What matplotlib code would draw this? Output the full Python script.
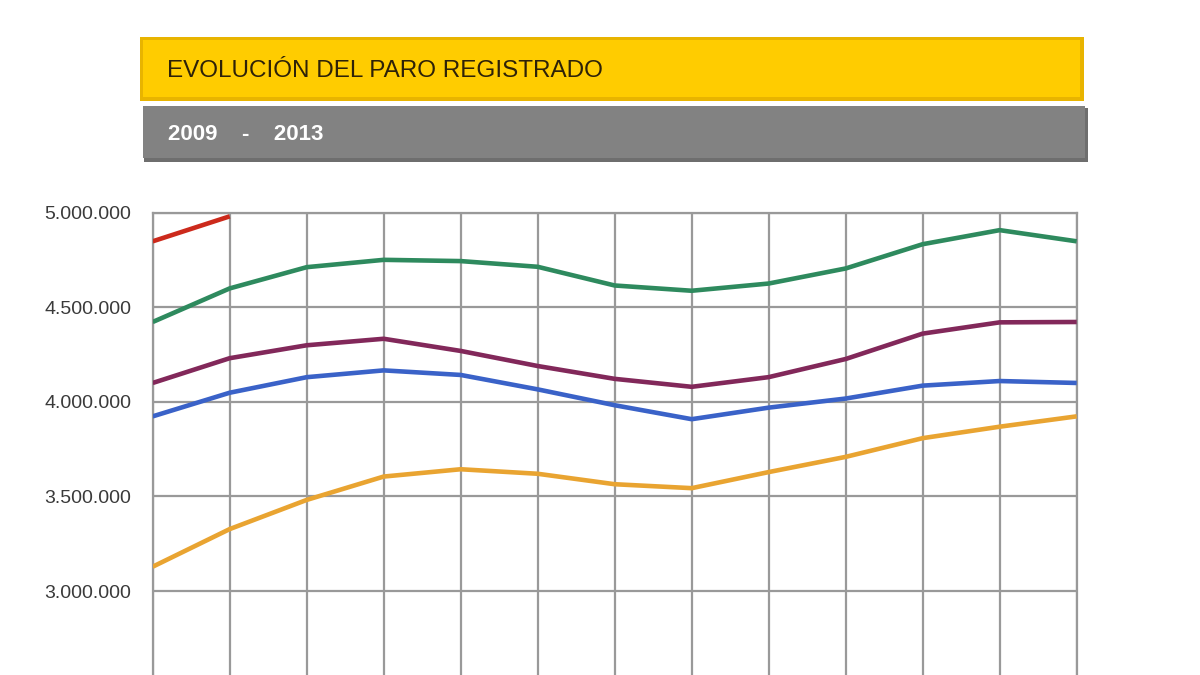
import matplotlib
matplotlib.use("Agg")
import matplotlib.pyplot as plt
from matplotlib.patches import Rectangle
from matplotlib.ticker import FuncFormatter

# months shown: December of the previous year, then January..December
meses = ["Dic", "Ene", "Feb", "Mar", "Abr", "May", "Jun",
         "Jul", "Ago", "Sep", "Oct", "Nov", "Dic"]

paro_2009 = [3128963, 3327801, 3481859, 3605402, 3644041, 3620139, 3564889,
             3544083, 3629080, 3709447, 3808353, 3868946, 3923603]
paro_2010 = [3923603, 4048493, 4130625, 4166613, 4142425, 4066202, 3982368,
             3908653, 3969661, 4017763, 4085976, 4110294, 4100073]
paro_2011 = [4100073, 4231003, 4299263, 4333669, 4269360, 4189659, 4121801,
             4079742, 4130927, 4226744, 4360926, 4420462, 4422359]
paro_2012 = [4422359, 4599829, 4712098, 4750867, 4744235, 4714122, 4615269,
             4587455, 4625634, 4705279, 4833521, 4907817, 4848723]
paro_2013 = [4848723, 4980778]

yticks = [2500000, 3000000, 3500000, 4000000, 4500000, 5000000]

series = [
    (paro_2009, "#e9a431"),
    (paro_2010, "#3a62c8"),
    (paro_2011, "#82285a"),
    (paro_2012, "#2e8a5e"),
    (paro_2013, "#cc2a1c"),
]

plt.rcParams['font.family'] = ['Liberation Sans', 'DejaVu Sans']

fig = plt.figure(figsize=(12, 6.75), dpi=100)
W, H = 1200, 675

def px_rect(x0, y0, x1, y1, **kw):
    # rectangle given in pixel coords (top-left origin)
    r = Rectangle((x0 / W, 1 - y1 / H), (x1 - x0) / W, (y1 - y0) / H,
                  transform=fig.transFigure, **kw)
    fig.patches.append(r)

# yellow title banner
px_rect(140, 37, 1084, 101, facecolor="#e8b400", edgecolor="none")
px_rect(143, 40, 1080, 97, facecolor="#ffcc00", edgecolor="none")
fig.text(167 / W, 1 - 71 / H, "EVOLUCIÓN DEL PARO REGISTRADO",
         fontsize=17.5, color="#2e2208", va="center", ha="left")

# grey subtitle banner
px_rect(144, 108, 1088, 162, facecolor="#6e6e6e", edgecolor="none")
px_rect(143, 106, 1085, 158, facecolor="#828282", edgecolor="none")
fig.text(168 / W, 1 - 134 / H, "2009    -    2013",
         fontsize=16, fontweight="bold", color="white", va="center", ha="left")

# chart area; bottom part falls outside the image like in the original
top_px, px_per_500k = 212.7, 94.6
ymin, ymax = 2000000, 5000000
bottom_px = top_px + (ymax - ymin) / 500000 * px_per_500k
ax = fig.add_axes([152.7 / W, 1 - bottom_px / H,
                   (1076.7 - 152.7) / W, (bottom_px - top_px) / H])

for vals, col in series:
    ax.plot(range(len(vals)), vals, color=col, lw=3.3,
            solid_joinstyle="round", solid_capstyle="butt", zorder=3)

ax.set_xlim(0, len(meses) - 1)
ax.set_ylim(ymin, ymax)
ax.set_xticks(range(len(meses)))
ax.set_xticklabels([])
ax.set_yticks(yticks)
ax.yaxis.set_major_formatter(FuncFormatter(lambda v, p: f"{int(v):,}".replace(",", ".")))
ax.tick_params(length=0, labelsize=14, labelcolor="#3a3a3a", pad=15.5)
ax.grid(True, color="#999999", lw=1.6, zorder=1)
for s in ax.spines.values():
    s.set_color("#999999")
    s.set_linewidth(1.6)

fig.savefig("out.png", dpi=100)
